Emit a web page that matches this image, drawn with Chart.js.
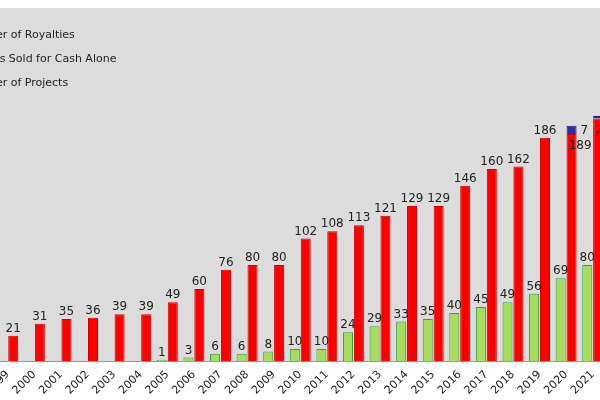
<!DOCTYPE html>
<html>
<head>
<meta charset="utf-8">
<script src="https://cdn.jsdelivr.net/npm/chart.js@4"></script>
<style>
  html, body { margin: 0; padding: 0; width: 600px; height: 400px; overflow: hidden; background: #fff; }
  #wrap { position: absolute; left: -15px; top: 0; width: 621px; height: 400px; }
  .leg { position: absolute; font: 11px "DejaVu Sans", sans-serif; color: #222; white-space: nowrap; }
</style>
</head>
<body>
<div id="wrap"><canvas id="c"></canvas></div>
<div class="leg" style="top:28px;left:-37px">Number of Royalties</div>
<div class="leg" style="top:52px;left:-38px">Projects Sold for Cash Alone</div>
<div class="leg" style="top:76px;left:-37px">Number of Projects</div>
<script>
"use strict";

const years = ['1999','2000','2001','2002','2003','2004','2005','2006','2007','2008','2009','2010',
               '2011','2012','2013','2014','2015','2016','2017','2018','2019','2020','2021'];
const projects = [0,0,0,0,0,0,1,3,6,6,8,10,10,24,29,33,35,40,45,49,56,69,80];
const royalties = [21,31,35,36,39,39,49,60,76,80,80,102,108,113,121,129,129,146,160,162,186,189,202];
const cashAlone = [0,0,0,0,0,0,0,0,0,0,0,0,0,0,0,0,0,0,0,0,0,7,2];

// value labels drawn on top of the bars
const labelPlugin = {
    id: 'labels',
    afterDatasetsDraw(chart) {
        const ctx = chart.ctx;
        ctx.save();
        ctx.font = '12px "DejaVu Sans", sans-serif';
        ctx.fillStyle = '#222';
        chart.data.datasets.forEach((ds, di) => {
            const meta = chart.getDatasetMeta(di);
            meta.data.forEach((bar, i) => {
                const v = ds.data[i];
                if (!v) return;
                const late = i >= years.length - 2;
                if (late && di === 1) {
                    ctx.textAlign = 'right'; ctx.textBaseline = 'middle';
                    ctx.fillText(v, bar.x + 20, bar.y + 12);
                } else if (late && di === 2) {
                    ctx.textAlign = 'left'; ctx.textBaseline = 'middle';
                    ctx.fillText(v, bar.x + 9, bar.y + 5);
                } else {
                    ctx.textAlign = 'center'; ctx.textBaseline = 'bottom';
                    ctx.fillText(v, bar.x, bar.y - 1);
                }
            });
        });
        ctx.restore();
    }
};

const bgPlugin = {
    id: 'bg',
    beforeDraw(chart) {
        const a = chart.chartArea;
        chart.ctx.save();
        chart.ctx.fillStyle = '#dcdcdc';
        chart.ctx.fillRect(0, a.top, chart.width, a.bottom - a.top);
        chart.ctx.restore();
    }
};

new Chart(document.getElementById('c'), {
    type: 'bar',
    data: {
        labels: years,
        datasets: [
            { label: 'Number of Projects', data: projects, stack: 'p',
              backgroundColor: '#a8dc5c', borderColor: '#2e9e4a', borderWidth: 1 },
            { label: 'Number of Royalties', data: royalties, stack: 'r',
              backgroundColor: '#ff0000', borderColor: '#c80000', borderWidth: 1 },
            { label: 'Projects Sold for Cash Alone', data: cashAlone, stack: 'r',
              backgroundColor: '#2b2fa8', borderColor: '#1a1d80', borderWidth: 1 }
        ]
    },
    options: {
        responsive: true,
        maintainAspectRatio: false,
        animation: false,
        layout: { padding: { top: 8, left: 0, right: 0, bottom: 0 } },
        datasets: { bar: { categoryPercentage: 0.82, barPercentage: 0.92 } },
        scales: {
            x: {
                stacked: true,
                grid: { display: false, drawTicks: true, tickLength: 4 },
                border: { color: '#9a9a9a' },
                ticks: { minRotation: 45, maxRotation: 45, color: '#222',
                         font: { family: 'DejaVu Sans', size: 11 } },
                afterFit: (s) => { s.height = 39; }
            },
            y: { stacked: true, display: false, min: 0, max: 294 }
        },
        plugins: {
            legend: { display: false },
            tooltip: { enabled: false }
        }
    },
    plugins: [bgPlugin, labelPlugin]
});
</script>
</body>
</html>
